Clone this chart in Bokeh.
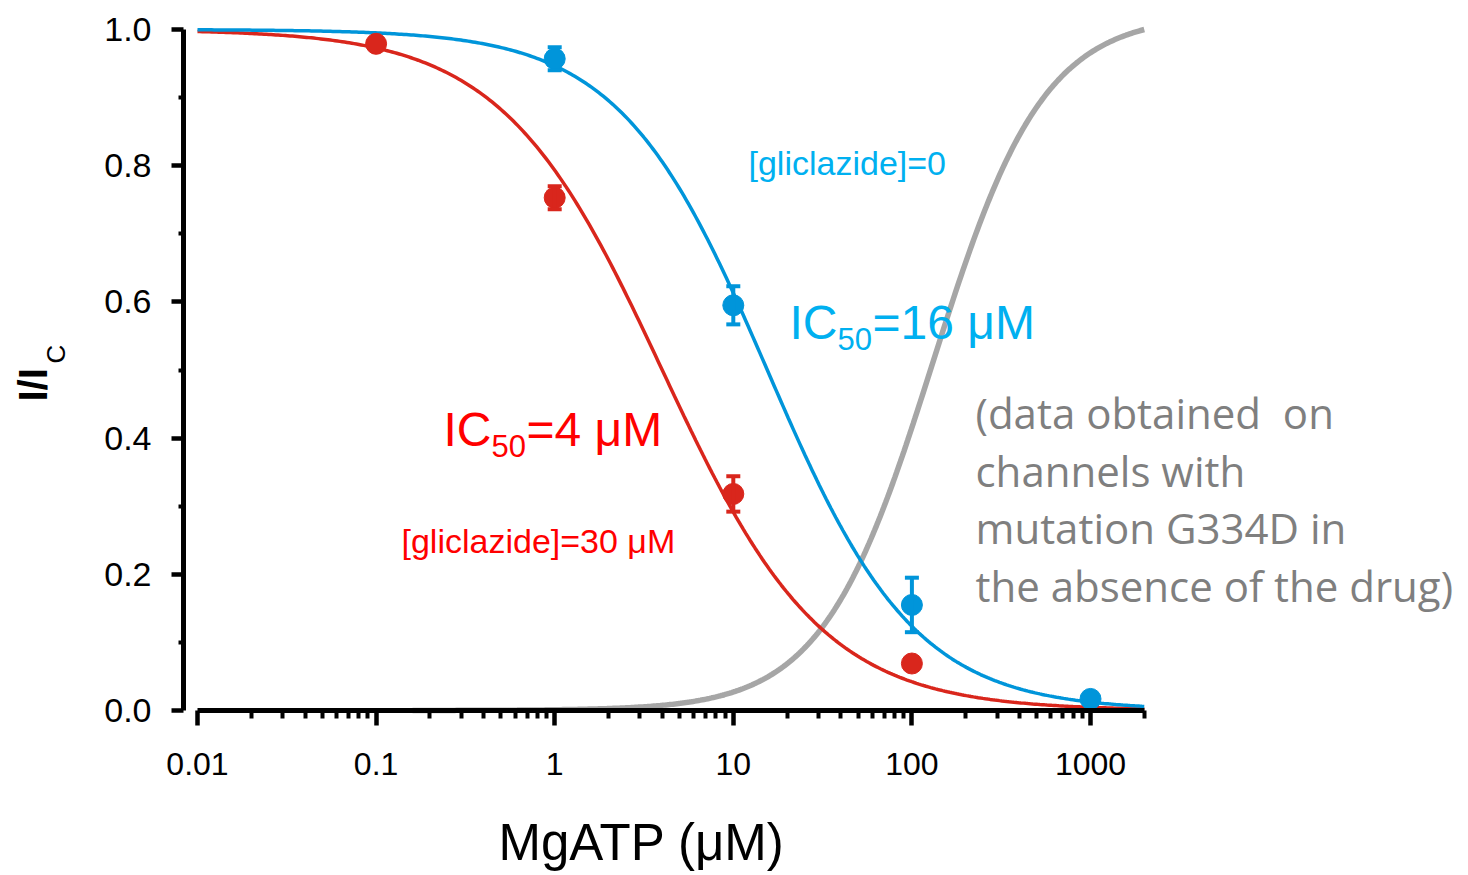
import numpy as np
from math import pi, sin, cos
from bokeh.plotting import figure
from bokeh.models import FixedTicker, Label, Whisker, TeeHead, ColumnDataSource, Range1d
from bokeh.embed import file_html
from bokeh.resources import INLINE

# ---------------- data ----------------
mgatp_red = [0.1, 1, 10, 100]
ratio_red = [0.979, 0.753, 0.318, 0.069]
sem_red = [0.0, 0.017, 0.026, 0.0]

mgatp_blue = [1, 10, 100, 1000]
ratio_blue = [0.957, 0.595, 0.155, 0.017]
sem_blue = [0.017, 0.028, 0.040, 0.0]

# Hill-equation fits drawn as curves
ic50_red, hill_red = 4.0, 0.97
ic50_blue, hill_blue = 15.5, 1.05
ec50_gray, hill_gray = 131.0, 1.4
curve_x_start, gray_x_start, curve_x_end = 0.01, 0.16, 2000.0

x_ticks = [0.01, 0.1, 1, 10, 100, 1000]
x_tick_labels = ["0.01", "0.1", "1", "10", "100", "1000"]
y_ticks = [0.0, 0.2, 0.4, 0.6, 0.8, 1.0]
y_tick_labels = ["0.0", "0.2", "0.4", "0.6", "0.8", "1.0"]
y_minor = [0.1, 0.3, 0.5, 0.7, 0.9]

BLUE_LINE = "#0095da"
RED_LINE = "#d9261c"
GRAY_LINE = "#a6a6a6"
BLUE_TEXT = "#00b0f0"
RED_TEXT = "#ff0000"
GRAY_TEXT = "#7f7f7f"
FONT = "Liberation Sans"

# ---------------- figure: frame spans the whole canvas ----------------
W, H = 1468, 875
DEC = 178.6            # px per decade
X0_PX, Y0_PX, Y1_PX = 197, 710, 29   # px of x=0.01, y=0, y=1
UNIT = Y0_PX - Y1_PX
x_lo = 10 ** (-2 - X0_PX / DEC)
x_hi = 10 ** (-2 + (W - X0_PX) / DEC)
y_hi = Y0_PX / UNIT
y_lo = (Y0_PX - H) / UNIT
yaxis_at = 10 ** (-2 - 14 / DEC)

p = figure(width=W, height=H, x_axis_type="log",
           x_range=Range1d(x_lo, x_hi), y_range=Range1d(y_lo, y_hi),
           output_backend="svg", toolbar_location=None,
           min_border=0, min_border_left=0, min_border_right=0,
           min_border_top=0, min_border_bottom=0)
p.outline_line_color = None
p.grid.visible = False
p.background_fill_color = "white"
p.border_fill_color = "white"

# curves
xc = np.logspace(np.log10(curve_x_start), np.log10(curve_x_end), 400)
xg = np.logspace(np.log10(gray_x_start), np.log10(curve_x_end), 400)
y_red_fit = 1.0 / (1.0 + (xc / ic50_red) ** hill_red)
y_blue_fit = 1.0 / (1.0 + (xc / ic50_blue) ** hill_blue)
g_raw = 1.0 / (1.0 + (ec50_gray / xg) ** hill_gray)
y_gray_fit = g_raw / g_raw[-1]          # normalised to the value at the highest [MgATP]

p.line(xg, y_gray_fit, line_color=GRAY_LINE, line_width=5.5)
p.line(xc, y_red_fit, line_color=RED_LINE, line_width=3.5)
p.line(xc, y_blue_fit, line_color=BLUE_LINE, line_width=3.5)

# error bars
for xs, ys, es, col in [(mgatp_red, ratio_red, sem_red, RED_LINE),
                        (mgatp_blue, ratio_blue, sem_blue, BLUE_LINE)]:
    keep = [i for i, e in enumerate(es) if e > 0]
    src = ColumnDataSource(dict(base=[xs[i] for i in keep],
                                upper=[ys[i] + es[i] for i in keep],
                                lower=[ys[i] - es[i] for i in keep]))
    w = Whisker(source=src, base="base", upper="upper", lower="lower",
                line_color=col, line_width=4, level="glyph",
                upper_head=TeeHead(size=14, line_width=4, line_color=col),
                lower_head=TeeHead(size=14, line_width=4, line_color=col))
    p.add_layout(w)

p.scatter(mgatp_red, ratio_red, size=21, fill_color=RED_LINE, line_color=RED_LINE)
p.scatter(mgatp_blue, ratio_blue, size=21, fill_color=BLUE_LINE, line_color=BLUE_LINE)

# axes (drawn at fixed data locations inside the frame)
xminor = [m * 10.0 ** e for e in range(-2, 4) for m in range(2, 10) if m * 10.0 ** e <= 2000]
xa = p.xaxis[0]
xa.ticker = FixedTicker(ticks=x_ticks, minor_ticks=xminor)
xa.major_label_overrides = dict(zip(x_ticks, x_tick_labels))
xa.bounds = (0.01, 2000)
xa.fixed_location = 0
ya = p.yaxis[0]
ya.ticker = FixedTicker(ticks=y_ticks, minor_ticks=y_minor)
ya.major_label_overrides = dict(zip(y_ticks, y_tick_labels))
ya.bounds = (0, 1)
ya.fixed_location = yaxis_at

for ax in (xa, ya):
    ax.axis_line_width = 5
    ax.axis_line_color = "black"
    ax.major_tick_line_width = 4.5
    ax.minor_tick_line_width = 4
    ax.major_tick_in = 0
    ax.minor_tick_in = 0
    ax.major_label_text_font = FONT
    ax.major_label_text_color = "black"
    ax.axis_label = None
xa.major_tick_out = 15
xa.minor_tick_out = 8
xa.major_label_text_font_size = "32px"
xa.major_label_standoff = 27
ya.major_tick_out = 12
ya.minor_tick_out = 5
ya.major_label_text_font_size = "34px"
ya.major_label_standoff = 20

K_SHIFT = 0.38   # measured downward drift of Label text, as a fraction of font size


def lab(text, ix, iy, size, color, font=FONT, angle=0.0, style="normal"):
    # ix, iy: picture position of the text origin (left end of baseline)
    ax_ = ix - K_SHIFT * size * sin(angle)
    ay_ = iy - K_SHIFT * size * cos(angle)
    p.add_layout(Label(x=ax_, y=H - ay_, x_units="screen", y_units="screen",
                       text=text, text_font=font, text_font_size=f"{size}px",
                       text_font_style=style,
                       text_color=color, angle=angle,
                       text_align="left", text_baseline="alphabetic"))


# annotations
lab("[gliclazide]=0", 748, 175, 34, BLUE_TEXT)
lab("IC", 789, 340, 48, BLUE_TEXT)
lab("50", 837, 350, 31, BLUE_TEXT)
lab("=16 \u03bcM", 872, 340, 48, BLUE_TEXT)

lab("IC", 443, 447, 48, RED_TEXT)
lab("50", 491, 457, 31, RED_TEXT)
lab("=4 \u03bcM", 526, 447, 48, RED_TEXT)
lab("[gliclazide]=30 \u03bcM", 401, 553, 34, RED_TEXT)

gray_lines = ["(data obtained\u00a0 on", "channels with", "mutation G334D in", "the absence of the drug)"]
for i, t in enumerate(gray_lines):
    lab(t, 975, 428 + i * 57.7, 42, GRAY_TEXT, font="Open Sans")

lab("MgATP (\u03bcM)", 498, 861, 51, "black")
lab("I/I", 48, 401, 40, "black", angle=pi / 2, style="bold")
lab("C", 65, 363, 26, "black", angle=pi / 2)

open("out.html", "w").write(file_html(p, INLINE))
